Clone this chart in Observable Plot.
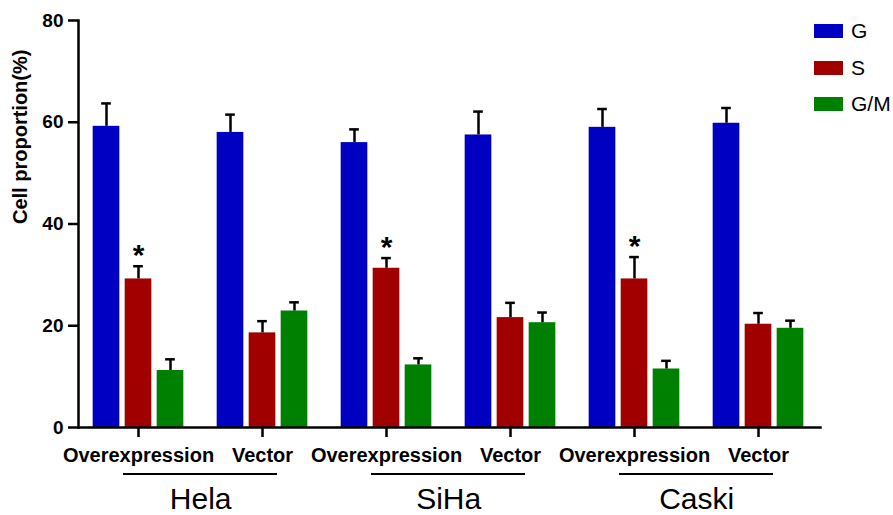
<!DOCTYPE html>
<html><head><meta charset="utf-8">
<script src="https://cdn.jsdelivr.net/npm/d3@7"></script>
<script src="https://cdn.jsdelivr.net/npm/@observablehq/plot@0.6"></script>
<style>
body{margin:0;background:#fff;font-family:Arial,"Liberation Sans",sans-serif;}
#wrap{position:relative;width:893px;height:515px;}
#legend{position:absolute;left:814px;top:0;}
.item{position:absolute;left:0;display:flex;align-items:center;height:14px;font-size:21px;white-space:nowrap;color:#000;}
.sw{width:29px;height:14px;margin-right:8px;flex:none;}
</style></head><body><div id="wrap"><div id="legend"></div></div>
<script>
const cellLines = ["Hela", "SiHa", "Caski"];
const conditions = ["Overexpression", "Vector"];
const phases = ["G", "S", "G/M"];
const phaseColors = ["#0000c2", "#a10000", "#008000"];
const yTicks = [0, 20, 40, 60, 80];
// order: Hela-OE, Hela-V, SiHa-OE, SiHa-V, Caski-OE, Caski-V
const gMean  = [59.2, 58.0, 56.0, 57.5, 59.0, 59.8];
const gErr   = [4.5, 3.5, 2.6, 4.6, 3.6, 3.0];
const sMean  = [29.2, 18.6, 31.3, 21.6, 29.2, 20.3];
const sErr   = [2.5, 2.3, 2.0, 2.9, 4.3, 2.2];
const gmMean = [11.2, 22.9, 12.3, 20.6, 11.5, 19.5];
const gmErr  = [2.2, 1.7, 1.3, 2.0, 1.6, 1.5];
const sSignificant = [true, false, true, false, true, false];

const keys = cellLines.flatMap(c => conditions.map(k => c + "|" + k));
const means = [gMean, sMean, gmMean];
const errs = [gErr, sErr, gmErr];
const series = phases.map((p, i) => keys.map((k, j) => ({
  key: k, phase: p, mean: means[i][j], err: errs[i][j],
  sig: i === 1 && sSignificant[j]
})));

const W = 893, H = 515, ML = 78, MR = 73, MT = 20, MB = 88;
const XIL = -3, XIR = -1;
const half = (W - ML - MR - XIL - XIR) / keys.length / 2;
const barW = 27, pitch = 32, capW = 10;

const marks = [];
series.forEach((data, i) => {
  const off = (i - 1) * pitch;
  marks.push(Plot.barY(data, {
    x: "key", y: "mean", fill: phaseColors[i],
    insetLeft: half + off - barW / 2, insetRight: half - off - barW / 2
  }));
  marks.push(Plot.ruleX(data, {
    x: "key", y1: "mean", y2: d => d.mean + d.err, dx: off, stroke: "#000", strokeWidth: 2.5
  }));
  marks.push(Plot.tickY(data, {
    x: "key", y: d => d.mean + d.err, stroke: "#000", strokeWidth: 2.5,
    insetLeft: half + off - capW / 2, insetRight: half - off - capW / 2
  }));
  marks.push(Plot.text(data.filter(d => d.sig), {
    x: "key", y: d => d.mean + d.err, text: () => "*", dx: off, dy: -1,
    lineAnchor: "bottom", fontSize: 30, fontWeight: "bold", fill: "#000"
  }));
});

marks.push(
  Plot.frame({anchor: "left", strokeWidth: 2.5}),
  Plot.frame({anchor: "bottom", strokeWidth: 2.5}),
  Plot.axisY({ticks: yTicks, tickSize: 10, tickPadding: 5, fontSize: 19, fontWeight: "bold", strokeWidth: 2.5, label: null}),
  Plot.axisX({tickSize: 10, tickPadding: 10, tickFormat: k => k.split("|")[1], fontSize: 20, fontWeight: "bold", strokeWidth: 2.5, label: null}),
  Plot.text(cellLines, {
    x: d => d + "|Overexpression", text: d => d, frameAnchor: "bottom",
    dx: half, dy: 81, lineAnchor: "bottom", fontSize: 30, fill: "#000"
  }),
  Plot.text(["Cell proportion(%)"], {
    frameAnchor: "left", rotate: -90, dx: -58, lineAnchor: "middle",
    fontSize: 20, fontWeight: "bold", fill: "#000"
  })
);

const chart = Plot.plot({
  width: W, height: H, marginLeft: ML, marginRight: MR, marginTop: MT, marginBottom: MB,
  x: {domain: keys, padding: 0, axis: null, insetLeft: XIL, insetRight: XIR},
  y: {domain: [0, 80], axis: null},
  style: {fontFamily: "Arial, 'Liberation Sans', sans-serif", background: "#fff", color: "#000", overflow: "visible"},
  marks
});

// underlines for cell-line groups, positioned via the plot's own scales
const sx = chart.scale("x"), sy = chart.scale("y");
const svg = d3.select(chart);
cellLines.forEach(c => {
  const a = sx.apply(c + "|Overexpression") + sx.bandwidth / 2 - 15;
  const b = sx.apply(c + "|Vector") + sx.bandwidth / 2 + 15;
  const yy = sy.apply(0) + 47;
  svg.append("line").attr("x1", a).attr("x2", b).attr("y1", yy).attr("y2", yy)
    .attr("stroke", "#000").attr("stroke-width", 2);
});

document.getElementById("wrap").prepend(chart);
const legend = document.getElementById("legend");
phases.forEach((p, i) => {
  const item = document.createElement("div");
  item.className = "item";
  item.style.top = (24 + i * 36.7) + "px";
  const sw = document.createElement("div");
  sw.className = "sw"; sw.style.background = phaseColors[i];
  const t = document.createElement("span"); t.textContent = p;
  item.append(sw, t);
  legend.append(item);
});
</script></body></html>
